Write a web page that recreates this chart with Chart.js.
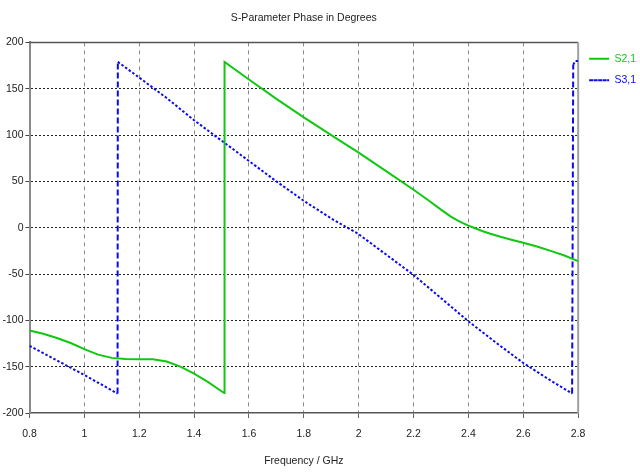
<!DOCTYPE html>
<html>
<head>
<meta charset="utf-8">
<script src="https://cdn.jsdelivr.net/npm/chart.js@4/dist/chart.umd.min.js"></script>
<style>
  html, body { margin: 0; padding: 0; background: #ffffff; }
  #wrap { width: 640px; height: 472px; position: relative; }
</style>
</head>
<body>
<div id="wrap"><canvas id="c" width="640" height="472"></canvas></div>
<script>
// ---- data ----
const chartTitle = "S-Parameter Phase in Degrees";
const xAxisTitle = "Frequency / GHz";
const seriesNames = ["S2,1", "S3,1"];

const xTickValues = [0.8, 1.0, 1.2, 1.4, 1.6, 1.8, 2.0, 2.2, 2.4, 2.6, 2.8];
const xTickLabels = ["0.8", "1", "1.2", "1.4", "1.6", "1.8", "2", "2.2", "2.4", "2.6", "2.8"];
const yTickValues = [-200, -150, -100, -50, 0, 50, 100, 150, 200];
const yTickLabels = ["-200", "-150", "-100", "-50", "0", "50", "100", "150", "200"];

const s21Freq  = [0.8, 0.85, 0.9, 0.95, 1.0, 1.05, 1.1, 1.15, 1.2, 1.25, 1.3, 1.35, 1.4, 1.45, 1.5, 1.51,
                  1.511, 1.6, 1.7, 1.8, 1.9, 2.0, 2.1, 2.2, 2.25, 2.3, 2.336, 2.36, 2.38, 2.4, 2.42, 2.45, 2.48, 2.52, 2.56, 2.6, 2.65, 2.7, 2.75, 2.8];
const s21Phase = [-111, -114.5, -119, -124.5, -131, -137, -140.5, -141.8, -142, -142, -144.5, -150, -157.5, -166.5, -176.5, -178.5,
                  179, 160, 139, 119, 100, 81, 61, 41, 30.5, 19.5, 12, 8, 5, 2.2, 0, -3.5, -6.5, -10, -13.2, -16.3, -20.3, -25, -30, -36];

const s31Freq  = [0.8, 1.0, 1.121, 1.122, 1.2, 1.3, 1.4, 1.5, 1.6, 1.7, 1.8, 1.9, 2.0, 2.1, 2.2, 2.3, 2.4, 2.5, 2.6, 2.7, 2.778, 2.782, 2.79, 2.8];
const s31Phase = [-127.5, -159, -179, 179, 162, 140, 116, 94, 72, 50, 29, 10, -7, -29, -51, -76, -101, -124, -146, -165, -179, 176, 180, 180];

const s21Color = "#10c810";
const s31Color = "#0a0af0";
const fontFamily = "'Liberation Sans', Arial, sans-serif";
const fontSize = 10.5;

function toPoints(xs, ys) { return xs.map((x, i) => ({ x: x, y: ys[i] })); }

const framePlugin = {
  id: 'frame',
  beforeDatasetsDraw(chart) {
    const a = chart.chartArea, ctx = chart.ctx;
    ctx.save();
    ctx.strokeStyle = '#555555';
    ctx.lineWidth = 1.5;
    ctx.beginPath();
    ctx.moveTo(a.left, a.top);
    ctx.lineTo(a.right, a.top);
    ctx.stroke();
    ctx.strokeStyle = '#a0a0a0';
    ctx.lineWidth = 2;
    ctx.beginPath();
    ctx.moveTo(a.right, a.top);
    ctx.lineTo(a.right, a.bottom);
    ctx.stroke();
    ctx.restore();
  }
};

new Chart(document.getElementById('c'), {
  type: 'line',
  data: {
    datasets: [
      {
        label: seriesNames[0],
        data: toPoints(s21Freq, s21Phase),
        borderColor: s21Color,
        backgroundColor: s21Color,
        borderWidth: 2,
        pointRadius: 0,
        tension: 0,
        fill: false
      },
      {
        label: seriesNames[1],
        data: toPoints(s31Freq, s31Phase),
        borderColor: s31Color,
        backgroundColor: s31Color,
        borderWidth: 2,
        borderDash: [3, 2],
        pointRadius: 0,
        tension: 0,
        fill: false,
        segment: {
          borderDash: c => Math.abs(c.p1.parsed.y - c.p0.parsed.y) > 100 ? [6, 3] : [2.5, 2]
        }
      }
    ]
  },
  options: {
    responsive: false,
    animation: false,
    devicePixelRatio: 1,
    layout: { padding: { left: 0, right: -6, top: 0, bottom: 0 } },
    plugins: {
      title: {
        display: true,
        text: chartTitle,
        fullSize: false,
        color: '#222222',
        font: { family: fontFamily, size: fontSize, weight: 'normal' },
        padding: { top: 11.7, bottom: 18.1 }
      },
      legend: {
        display: true,
        position: 'right',
        align: 'start',
        fullSize: false,
        labels: {
          boxWidth: 20,
          boxHeight: 0,
          padding: 11,
          font: { family: fontFamily, size: fontSize },
          generateLabels(chart) {
            const items = Chart.defaults.plugins.legend.labels.generateLabels(chart);
            items.forEach(it => {
              const ds = chart.data.datasets[it.datasetIndex];
              it.fontColor = ds.borderColor;
              it.strokeStyle = ds.borderColor;
              it.lineWidth = 2;
              it.lineDash = it.datasetIndex === 1 ? [2.5, 2] : [];
            });
            return items;
          }
        }
      },
      tooltip: { enabled: false }
    },
    scales: {
      x: {
        type: 'linear',
        min: 0.8,
        max: 2.8,
        afterFit(scale) { scale.height = 59; },
        afterBuildTicks(scale) { scale.ticks = xTickValues.map(v => ({ value: v })); },
        ticks: {
          color: '#222222',
          font: { family: fontFamily, size: fontSize },
          padding: 10,
          maxRotation: 0,
          autoSkip: false,
          callback: (v, i) => xTickLabels[i]
        },
        grid: {
          color: c => (c.tick && (c.tick.value === 0.8 || c.tick.value === 2.8)) ? 'rgba(0,0,0,0)' : '#8a8a8a',
          lineWidth: 1,
          tickLength: 5,
          tickColor: '#666666'
        },
        border: { display: true, color: '#555555', width: 1.5, dash: [4, 4] },
        title: {
          display: true,
          text: xAxisTitle,
          color: '#222222',
          font: { family: fontFamily, size: fontSize },
          padding: { top: 0, bottom: 4.5 }
        }
      },
      y: {
        type: 'linear',
        min: -200,
        max: 200,
        afterFit(scale) { scale.width = 29.5; },
        afterBuildTicks(scale) { scale.ticks = yTickValues.map(v => ({ value: v })); },
        ticks: {
          color: '#222222',
          font: { family: fontFamily, size: fontSize },
          padding: 2,
          autoSkip: false,
          callback: (v, i) => yTickLabels[i]
        },
        grid: {
          color: c => (c.tick && (c.tick.value === 200 || c.tick.value === -200)) ? 'rgba(0,0,0,0)' : '#222222',
          lineWidth: 1,
          tickLength: 4,
          tickColor: '#444444'
        },
        border: { display: true, color: '#8a8a8a', width: 2, dash: [2, 2] }
      }
    }
  },
  plugins: [framePlugin]
});
</script>
</body>
</html>
